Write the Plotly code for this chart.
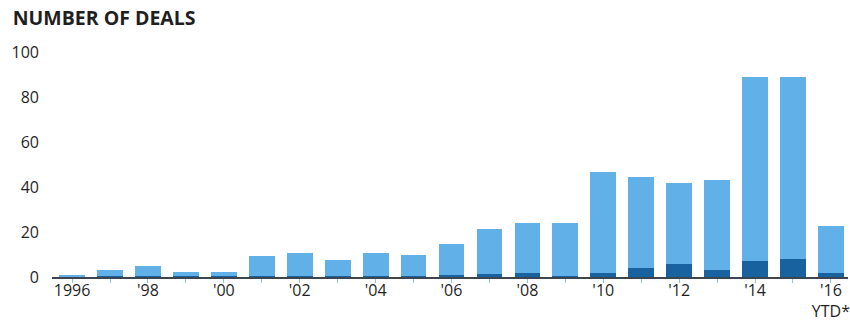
import plotly.graph_objects as go

# Deal counts per year (1996 through 2016 year-to-date)
years = list(range(1996, 2017))
total_deals = [1, 3, 5, 2.3, 2.3, 9.5, 10.5, 7.5, 10.5, 9.8, 14.5, 21.5, 23.8, 24,
               46.5, 44.5, 42, 43, 89, 89, 22.5]
highlighted_deals = [0.3, 0.3, 0.5, 0.3, 0.3, 0.5, 0.5, 0.5, 0.5, 0.5, 1, 1.2, 2, 0.5,
                     1.6, 4, 6, 3, 7.2, 8.2, 2]
tick_text = ["1996", "", "'98", "", "'00", "", "'02", "", "'04", "", "'06", "",
             "'08", "", "'10", "", "'12", "", "'14", "", "'16<br>YTD*"]
y_ticks = [0, 20, 40, 60, 80, 100]

other_deals = [t - h for t, h in zip(total_deals, highlighted_deals)]

LIGHT = "#62b0e8"
DARK = "#17629f"
TEXT = "#1f1f1f"

fig = go.Figure()
fig.add_trace(go.Bar(x=years, y=highlighted_deals, marker_color=DARK,
                     marker_line_width=0, width=0.68))
fig.add_trace(go.Bar(x=years, y=other_deals, marker_color=LIGHT,
                     marker_line_width=0, width=0.68))

fig.update_layout(
    width=850, height=322,
    barmode="stack",
    showlegend=False,
    plot_bgcolor="white",
    paper_bgcolor="white",
    margin=dict(l=52, r=2, t=52, b=45),
    font=dict(family="Open Sans", color=TEXT),
    title=dict(text="<b>NUMBER OF DEALS</b>", x=0.015, xanchor="left",
               y=0.945, yanchor="middle",
               font=dict(family="Open Sans", size=19.5, color=TEXT)),
)
fig.update_xaxes(
    range=[1995.47, 2016.45],
    automargin=False,
    tickmode="array", tickvals=years, ticktext=tick_text,
    ticks="outside", ticklen=4, tickwidth=1, tickcolor="#8cc4ec",
    ticklabelstandoff=-6,
    ticklabeloverflow="allow",
    showline=True, linecolor="#3d4650", linewidth=2,
    showgrid=False, zeroline=False,
    tickfont=dict(size=16, color=TEXT),
)
fig.update_yaxes(
    range=[0, 100],
    automargin=False,
    tickvals=y_ticks,
    showgrid=False, zeroline=False, showline=False,
    ticklabelstandoff=12,
    tickfont=dict(size=16, color=TEXT),
)

fig.write_html("out.html")
